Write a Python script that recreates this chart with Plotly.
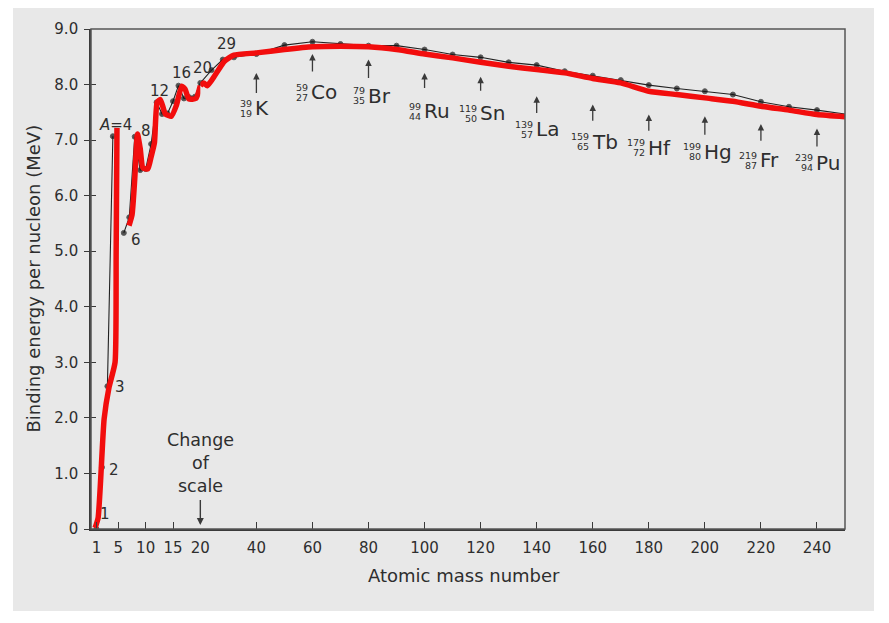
import plotly.graph_objects as go

# ---------------- data ----------------
# measured binding energies (thin black line with dots)
black_lo1_A = [1, 2, 3, 4]
black_lo1_BE = [0.0, 1.11, 2.57, 7.07]
black_lo2_A = [6, 7, 8, 9, 10, 11, 12, 13, 14, 15, 16, 17, 18, 19, 20]
black_lo2_BE = [5.33, 5.61, 7.06, 6.46, 6.48, 6.93, 7.68,
                7.47, 7.48, 7.70, 7.98, 7.75, 7.77, 7.78, 8.03]
black_hi_A = [20, 24, 28, 32, 40, 50, 60, 70, 80, 90, 100, 110, 120, 130, 140,
              150, 160, 170, 180, 190, 200, 210, 220, 230, 240, 250]
black_hi_BE = [8.03, 8.26, 8.45, 8.49, 8.55, 8.71, 8.77, 8.73, 8.70, 8.70, 8.63,
               8.54, 8.49, 8.40, 8.35, 8.24, 8.16, 8.08, 7.99, 7.93, 7.88, 7.82,
               7.69, 7.60, 7.54, 7.47]

# hand-drawn red curve
red_a_A = [0.75, 1.3, 2.4, 3.3, 4.4, 4.6, 4.75]
red_a_BE = [0.02, 0.2, 1.98, 2.55, 3.0, 4.96, 7.22]
red_b_A = [6.95, 7.5, 8.0, 8.5, 9.0, 9.5, 10.4, 11.0, 11.6, 12.1, 12.7, 13.6,
           14.7, 15.6, 16.6, 17.2, 17.9, 19.2, 20]
red_b_BE = [5.46, 5.65, 6.3, 7.11, 6.85, 6.5, 6.48, 6.7, 6.95, 7.68, 7.73, 7.47,
            7.43, 7.62, 7.97, 7.92, 7.74, 7.75, 7.98]
red_c_A = [20, 21.2, 22.5, 25, 28.6, 32, 40, 50, 60, 70, 80, 90, 100, 110, 120,
           130, 140, 150, 160, 170, 180, 190, 200, 210, 220, 230, 240, 250]
red_c_BE = [7.98, 8.03, 7.98, 8.15, 8.42, 8.53, 8.57, 8.63, 8.68, 8.69, 8.68,
            8.63, 8.55, 8.48, 8.40, 8.33, 8.27, 8.21, 8.11, 8.03, 7.88, 7.82,
            7.76, 7.70, 7.61, 7.54, 7.46, 7.42]

x_ticks_lo = [1, 5, 10, 15, 20]
x_ticks_hi = [40, 60, 80, 100, 120, 140, 160, 180, 200, 220, 240]
y_ticks = [0, 1, 2, 3, 4, 5, 6, 7, 8, 9]
y_ticktext = ["0", "1.0", "2.0", "3.0", "4.0", "5.0", "6.0", "7.0", "8.0", "9.0"]

peak_labels = ["1", "2", "3", "<i>A</i>=4", "6", "8", "12", "16"]
peak_label_A = [2.56, 4.12, 5.31, 4.57, 8.23, 10.06, 12.53, 16.47]
peak_label_BE = [0.27, 1.07, 2.55, 7.27, 5.20, 7.16, 7.89, 8.21]
peak_labels_hi = ["20", "29"]
peak_label_hi_A = [20.8, 29.5]
peak_label_hi_BE = [8.29, 8.73]

nuclide_sym = ["K", "Co", "Br", "Ru", "Sn", "La", "Tb", "Hf", "Hg", "Fr", "Pu"]
nuclide_mass = [39, 59, 79, 99, 119, 139, 159, 179, 199, 219, 239]
nuclide_Z = [19, 27, 35, 44, 50, 57, 65, 72, 80, 87, 94]
nuclide_arrow_A = [40, 60, 80, 100, 120, 140, 160, 180, 200, 220, 240]
arrow_tip_BE = [8.21, 8.55, 8.45, 8.21, 8.14, 7.79, 7.64, 7.46, 7.43, 7.29, 7.21]
arrow_tail_BE = [7.82, 8.21, 8.09, 7.91, 7.86, 7.46, 7.32, 7.14, 7.07, 6.96, 6.86]
label_BE = [7.57, 7.86, 7.80, 7.52, 7.48, 7.20, 6.97, 6.86, 6.79, 6.64, 6.59]

# ---------------- styling ----------------
FONT = "DejaVu Sans"
TXT = "#2e2e2e"
AX = "#3a3a3a"
RED = "#f20d0d"

fig = go.Figure()

# black measured curve
for xs, ys, xa, last_marker in [(black_lo1_A, black_lo1_BE, "x", True),
                                (black_lo2_A, black_lo2_BE, "x", True),
                                (black_hi_A, black_hi_BE, "x2", False)]:
    sizes = [5] * len(xs)
    if not last_marker:
        sizes[-1] = 0
    fig.add_trace(go.Scatter(x=xs, y=ys, xaxis=xa, yaxis="y",
                             mode="lines+markers", line=dict(color="#222", width=1.1),
                             marker=dict(color="#111", size=sizes), hoverinfo="skip"))
# red hand-drawn curve
for xs, ys, xa in [(red_a_A, red_a_BE, "x"), (red_b_A, red_b_BE, "x"),
                   (red_c_A, red_c_BE, "x2")]:
    fig.add_trace(go.Scatter(x=xs, y=ys, xaxis=xa, yaxis="y", mode="lines",
                             line=dict(color=RED, width=5.5, shape="spline", smoothing=0.5),
                             hoverinfo="skip"))
# helper trace for the inside tick overlay axis
fig.add_trace(go.Scatter(x=[None], y=[None], xaxis="x", yaxis="y2",
                         mode="lines", hoverinfo="skip"))

dom_split = 0.145
tickfont = dict(family=FONT, size=15, color=TXT)
common_x = dict(ticks="inside", ticklen=7, tickwidth=1.3, tickcolor=AX,
                showline=True, linecolor=AX, linewidth=2, showgrid=False,
                zeroline=False, tickfont=tickfont, anchor="y", ticklabelstandoff=4)

annotations = []
for t, a, b in zip(peak_labels, peak_label_A, peak_label_BE):
    annotations.append(dict(x=a, y=b, xref="x", yref="y", text=t, showarrow=False,
                            font=dict(family=FONT, size=15, color=TXT)))
for t, a, b in zip(peak_labels_hi, peak_label_hi_A, peak_label_hi_BE):
    annotations.append(dict(x=a, y=b, xref="x2", yref="y", text=t, showarrow=False,
                            font=dict(family=FONT, size=15, color=TXT)))

# change of scale
annotations.append(dict(x=19.95, y=1.18, xref="x", yref="y",
                        text="Change<br>of<br>scale", showarrow=False,
                        font=dict(family=FONT, size=17.5, color=TXT)))
annotations.append(dict(x=20, y=0.07, ax=20, ay=0.55, xref="x", yref="y",
                        axref="x", ayref="y", text="", showarrow=True,
                        arrowhead=2, arrowsize=1, arrowwidth=1.4, arrowcolor=AX))

# nuclide labels with arrows
for s, m, z, xa, tip, tail, lb in zip(nuclide_sym, nuclide_mass, nuclide_Z,
                                      nuclide_arrow_A, arrow_tip_BE,
                                      arrow_tail_BE, label_BE):
    annotations.append(dict(x=xa, y=tip, ax=xa, ay=tail, xref="x2", yref="y",
                            axref="x2", ayref="y", text="", showarrow=True,
                            arrowhead=2, arrowsize=1, arrowwidth=1.3, arrowcolor=AX))
    annotations.append(dict(x=xa, y=lb, xref="x2", yref="y", text=s,
                            showarrow=False, xanchor="left", yanchor="middle",
                            xshift=-3, font=dict(family=FONT, size=20, color=TXT)))
    annotations.append(dict(x=xa, y=lb, xref="x2", yref="y", text=str(m),
                            showarrow=False, xanchor="right", yanchor="middle",
                            xshift=-2, yshift=5, font=dict(family=FONT, size=9.5, color=TXT)))
    annotations.append(dict(x=xa, y=lb, xref="x2", yref="y", text=str(z),
                            showarrow=False, xanchor="right", yanchor="middle",
                            xshift=-2, yshift=-5, font=dict(family=FONT, size=9.5, color=TXT)))

# axis titles
annotations.append(dict(x=0.4947, y=-0.093, xref="paper", yref="paper",
                        text="Atomic mass number", showarrow=False,
                        xanchor="center", yanchor="middle",
                        font=dict(family=FONT, size=18, color=TXT)))
annotations.append(dict(x=-0.0769, y=0.501, xref="paper", yref="paper",
                        text="Binding energy per nucleon (MeV)", showarrow=False,
                        textangle=-90, xanchor="center", yanchor="middle",
                        font=dict(family=FONT, size=18, color=TXT)))

shapes = [
    # grey paper background of the scanned figure
    dict(type="rect", xref="paper", yref="paper", x0=-0.1034, x1=1.0385,
         y0=-0.164, y1=1.06, fillcolor="#e8e8e8", line=dict(width=0), layer="below"),
    # plot frame
    dict(type="rect", xref="paper", yref="paper", x0=0, x1=1, y0=0, y1=1,
         line=dict(color="#555", width=1.5), layer="above"),
]

fig.update_layout(
    width=889, height=623, autosize=False,
    margin=dict(l=83, r=52, t=16, b=102),
    paper_bgcolor="white", plot_bgcolor="rgba(0,0,0,0)",
    showlegend=False,
    xaxis=dict(domain=[0, dom_split], range=[0, 20], tickvals=x_ticks_lo, **common_x),
    xaxis2=dict(domain=[dom_split, 1], range=[20, 250], tickvals=x_ticks_hi, **common_x),
    yaxis=dict(range=[0, 9], tickvals=y_ticks, ticktext=y_ticktext, ticks="outside",
               ticklen=5, tickwidth=1.3, tickcolor=AX, showline=True, linecolor=AX,
               linewidth=1.6, showgrid=False, zeroline=False, tickfont=tickfont,
               anchor="x", ticklabelstandoff=3),
    yaxis2=dict(range=[0, 9], tickvals=y_ticks, ticks="inside", ticklen=5,
                tickwidth=1.3, tickcolor=AX, showticklabels=False, showline=False,
                showgrid=False, zeroline=False, overlaying="y", anchor="x", side="left"),
    annotations=annotations,
    shapes=shapes,
)

fig.write_html("out.html")
